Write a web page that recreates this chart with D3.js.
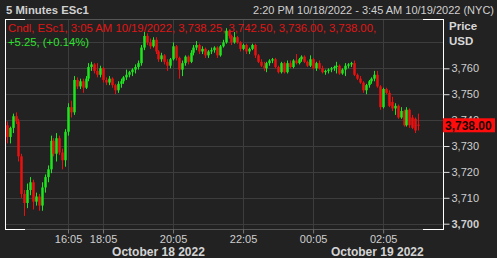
<!DOCTYPE html>
<html>
<head>
<meta charset="utf-8">
<script src="https://cdn.jsdelivr.net/npm/d3@7"></script>
<style>
    html, body { margin: 0; padding: 0; background: #222222; }
    svg { display: block; }
    text { font-family: "Liberation Sans", Arial, sans-serif; }
</style>
</head>
<body>
<div id="chart"></div>
<script>
// ESc1 5 minute candles, 14:20 10/18 -> 03:05 10/19 (NYC), break 17:00-18:00
const opens = [
    3738, 3733.5, 3737, 3741.5, 3739.5, 3726, 3711.5, 3708, 3713, 3716,
    3708.5, 3710.5, 3707, 3714, 3718, 3721, 3732, 3727, 3733, 3727.5,
    3724.5, 3735.5, 3745, 3743, 3755.5, 3753, 3755, 3752.5, 3756, 3760.5,
    3761.5, 3759, 3757.5, 3760, 3755.5, 3754.5, 3756, 3753.5, 3751.5, 3754,
    3755, 3756.5, 3757.5, 3758.5, 3759.5, 3760.5, 3762, 3768, 3772.5, 3770,
    3768.5, 3771, 3766.5, 3763.5, 3765, 3762.5, 3761, 3763.5, 3768.5, 3764,
    3759.5, 3762, 3764.5, 3762.5, 3766, 3768, 3769, 3766.5, 3767.5, 3765,
    3766.5, 3767, 3768, 3765, 3768.5, 3770, 3774.5, 3772.5, 3770, 3772,
    3770, 3767.5, 3769, 3766.5, 3767.5, 3769, 3765, 3762.5, 3761, 3760,
    3762, 3763, 3763.5, 3760.5, 3758.5, 3762, 3758.5, 3762, 3760.5, 3763,
    3762, 3763.5, 3764.5, 3762.5, 3761, 3763.5, 3760, 3762, 3760, 3758.5,
    3759, 3759.5, 3760, 3760.5, 3761, 3758, 3759.5, 3761, 3761.5, 3762,
    3757.5, 3756, 3754.5, 3751.5, 3753.5, 3755, 3756, 3757.5, 3753, 3745,
    3752, 3750.5, 3747, 3744.5, 3745.5, 3741, 3743.5, 3738, 3744, 3741,
    3740.5, 3738.25
];
const highs = [
    3739.5, 3737.5, 3742.5, 3743, 3740.5, 3727, 3713, 3715.5, 3718, 3717,
    3712, 3711.5, 3716, 3719, 3722.5, 3734, 3733, 3735, 3734, 3729,
    3736.5, 3746.5, 3747.5, 3757, 3756.5, 3756, 3756, 3757, 3762, 3762.5,
    3762, 3762, 3761, 3760.5, 3756.5, 3757, 3756.5, 3754, 3755, 3756,
    3757, 3759.5, 3759, 3760, 3761.5, 3763, 3769, 3774, 3773.5, 3771.5,
    3772, 3772, 3767, 3766, 3765.5, 3763.5, 3764, 3770, 3769, 3764.5,
    3763, 3765, 3765, 3767, 3769, 3770.5, 3769.5, 3768.5, 3768, 3767,
    3768, 3768.5, 3768.5, 3769, 3771, 3775.5, 3775, 3773, 3774, 3772.5,
    3770.5, 3769.5, 3769.5, 3768, 3769.5, 3769.5, 3765.5, 3763.5, 3762.5, 3762.5,
    3763.5, 3764, 3764, 3761, 3762.5, 3762.5, 3763, 3763, 3763.5, 3765.5,
    3764, 3765, 3765, 3763, 3765, 3764, 3762.5, 3763, 3761, 3759.5,
    3760, 3760.5, 3761, 3762.5, 3761.5, 3760, 3762, 3762, 3762.5, 3763,
    3758, 3757, 3755, 3754, 3755.5, 3756.5, 3759, 3759, 3753.5, 3752.5,
    3752.5, 3751.5, 3749, 3746.5, 3746, 3745, 3744, 3745, 3744.5, 3742,
    3741, 3742.5
];
const lows = [
    3731, 3731, 3735, 3738.5, 3724, 3710, 3703, 3706, 3711, 3705.5,
    3707, 3705, 3705, 3712, 3716, 3719.5, 3726, 3724, 3726.5, 3721,
    3722, 3734, 3741, 3742, 3752, 3752, 3750.5, 3752, 3755, 3759,
    3758, 3756.5, 3756.5, 3754.5, 3753.5, 3753.5, 3752.5, 3750, 3750.5, 3752.5,
    3754, 3755.5, 3756.5, 3757, 3758, 3759.5, 3761, 3767, 3769, 3767.5,
    3768, 3765.5, 3762.5, 3762.5, 3761.5, 3759, 3760, 3763, 3763, 3756,
    3757, 3761, 3761.5, 3762, 3765, 3767, 3765.5, 3765.5, 3764, 3764,
    3765.5, 3766, 3764, 3764.5, 3768, 3769.5, 3771.5, 3769, 3769.5, 3769.5,
    3766.5, 3767, 3765.5, 3765.5, 3767, 3764, 3762, 3760.5, 3759, 3758.5,
    3761, 3762, 3760, 3758, 3758, 3758, 3758, 3760, 3760, 3761.5,
    3761.5, 3762.5, 3762, 3760.5, 3760.5, 3759.5, 3759, 3759.5, 3758, 3757.5,
    3758, 3758.5, 3759, 3758, 3757.5, 3757.5, 3757, 3760, 3760.5, 3757,
    3755.5, 3754, 3750.5, 3750, 3752.5, 3754, 3755, 3752.5, 3744, 3744.5,
    3750, 3745, 3743.5, 3742, 3740.5, 3740.5, 3737.5, 3737.5, 3737, 3736.5,
    3735, 3736
];
const closes = [
    3733.5, 3737, 3741.5, 3739.5, 3726, 3711.5, 3708, 3713, 3716, 3708.5,
    3710.5, 3707, 3714, 3718, 3721, 3732, 3727, 3733, 3727.5, 3724.5,
    3735.5, 3745, 3743, 3755.5, 3753, 3755, 3752.5, 3756, 3760.5, 3761.5,
    3759, 3757.5, 3760, 3755.5, 3754.5, 3756, 3753.5, 3751.5, 3754, 3755,
    3756.5, 3757.5, 3758.5, 3759.5, 3760.5, 3762, 3768, 3772.5, 3770, 3768.5,
    3771, 3766.5, 3763.5, 3765, 3762.5, 3761, 3763.5, 3768.5, 3764, 3759.5,
    3762, 3764.5, 3762.5, 3766, 3768, 3769, 3766.5, 3767.5, 3765, 3766.5,
    3767, 3768, 3765, 3768.5, 3770, 3774.5, 3772.5, 3770, 3772, 3770,
    3767.5, 3769, 3766.5, 3767.5, 3769, 3765, 3762.5, 3761, 3760, 3762,
    3763, 3763.5, 3760.5, 3758.5, 3762, 3758.5, 3762, 3760.5, 3763, 3762,
    3763.5, 3764.5, 3762.5, 3761, 3763.5, 3760, 3762, 3760, 3758.5, 3759,
    3759.5, 3760, 3760.5, 3761, 3758, 3759.5, 3761, 3761.5, 3762, 3757.5,
    3756, 3754.5, 3751.5, 3753.5, 3755, 3756, 3757.5, 3753, 3745, 3752,
    3750.5, 3745.5, 3744.5, 3745.5, 3741, 3743.5, 3738, 3744, 3738, 3737,
    3736, 3738
];

const priceTicks = [3700, 3710, 3720, 3730, 3740, 3750, 3760];
const priceGrid = [3700, 3710, 3720, 3730, 3740, 3750, 3760, 3770];
const timeTicks = ['16:05', '18:05', '20:05', '22:05', '00:05', '02:05'];
const dateLabels = ['October 18 2022', 'October 19 2022'];
const dateAnchors = ['19:40', '01:55'];
const sessions = [
    ['2022-10-18T14:20', '2022-10-18T17:00'],
    ['2022-10-18T18:00', '2022-10-19T03:50']
];

const title = '5 Minutes ESc1';
const rangeText = '2:20 PM 10/18/2022 - 3:45 AM 10/19/2022 (NYC)';
const lastTime = '3:05 AM 10/19/2022';
const changeText = '+5.25, (+0.14%)';

const W = 497, H = 258;
const pLeft = 5, pRight = 443, pTop = 19, pBottom = 229;
const up = '#1de61d', down = '#ea1010';

// time slots of the axis (the trading break is skipped)
let slots = [];
sessions.forEach(function (s) {
    slots = slots.concat(d3.timeMinute.every(5).range(new Date(s[0]), new Date(s[1])));
});
let hm = d3.timeFormat('%H:%M');
let slotOf = function (label) {
    return slots.find(function (d) { return hm(d) === label; });
};

let x = d3.scalePoint().domain(slots.map(Number)).range([6.75, 441.5]);
let y = d3.scaleLinear().domain([3700, 3770]).range([223.7, 42.4]);

let candles = closes.map(function (c, i) {
    return { t: +slots[i], o: opens[i], h: highs[i], l: lows[i], c: c };
});

let svg = d3.select('#chart').append('svg')
    .attr('width', W)
    .attr('height', H);

svg.append('rect').attr('width', W).attr('height', H).attr('fill', '#222222');

// grid
svg.append('g').selectAll('line')
    .data(priceGrid)
    .enter()
    .append('line')
    .attr('x1', pLeft).attr('x2', pRight)
    .attr('y1', function (d) { return Math.round(y(d)) + 0.5; })
    .attr('y2', function (d) { return Math.round(y(d)) + 0.5; })
    .attr('stroke', '#3d3d3d');

svg.append('g').selectAll('line')
    .data(timeTicks)
    .enter()
    .append('line')
    .attr('x1', function (d) { return Math.round(x(+slotOf(d))) + 0.5; })
    .attr('x2', function (d) { return Math.round(x(+slotOf(d))) + 0.5; })
    .attr('y1', pTop).attr('y2', pBottom)
    .attr('stroke', '#3d3d3d');

// frame
let frame = svg.append('g');
frame.append('line').attr('x1', pLeft).attr('x2', pRight).attr('y1', pTop + 0.5).attr('y2', pTop + 0.5).attr('stroke', '#555');
frame.append('line').attr('x1', pLeft).attr('x2', pRight).attr('y1', pBottom + 0.5).attr('y2', pBottom + 0.5).attr('stroke', '#555');
[[pLeft, pTop, 1], [pRight, pTop, -1], [pLeft, pBottom, 1], [pRight, pBottom, -1]].forEach(function (c) {
    frame.append('line')
        .attr('x1', c[0]).attr('x2', c[0] + c[2] * 20)
        .attr('y1', c[1] + 0.5).attr('y2', c[1] + 0.5)
        .attr('stroke', '#fff');
});
frame.append('line').attr('x1', pLeft + 0.5).attr('x2', pLeft + 0.5).attr('y1', pTop).attr('y2', pBottom + 1).attr('stroke', '#fff');
frame.append('line').attr('x1', pRight + 0.5).attr('x2', pRight + 0.5).attr('y1', pTop).attr('y2', pBottom + 1).attr('stroke', '#fff');

// candles
let g = svg.selectAll('.candle')
    .data(candles)
    .enter()
    .append('g')
    .attr('class', 'candle');

g.append('line')
    .attr('x1', function (d) { return Math.round(x(d.t)) + 0.5; })
    .attr('x2', function (d) { return Math.round(x(d.t)) + 0.5; })
    .attr('y1', function (d) { return y(d.h); })
    .attr('y2', function (d) { return y(d.l); })
    .attr('stroke', function (d) { return d.c < d.o ? down : up; });

g.append('rect')
    .attr('x', function (d) { return Math.round(x(d.t)) - 0.75; })
    .attr('width', 2.5)
    .attr('y', function (d) { return y(Math.max(d.o, d.c)); })
    .attr('height', function (d) { return Math.max(1, Math.abs(y(d.o) - y(d.c))); })
    .attr('fill', function (d) { return d.c < d.o ? down : up; });

// price axis
let yAxis = svg.append('g')
    .attr('transform', 'translate(' + (pRight + 0.5) + ',0)')
    .call(d3.axisRight(y).tickValues(priceTicks).tickFormat(d3.format(',')).tickSize(6).tickPadding(2));
yAxis.select('.domain').remove();
yAxis.selectAll('line').attr('stroke', '#ddd');
yAxis.selectAll('text')
    .attr('fill', '#cfcfcf')
    .style('font-size', '11px')
    .style('font-weight', function (d) { return d === 3700 ? 'bold' : 'normal'; });

// last price box
let last = candles[candles.length - 1];
svg.append('rect')
    .attr('x', pRight)
    .attr('y', y(last.c) - 7)
    .attr('width', 52)
    .attr('height', 14)
    .attr('fill', '#ff0d0d');
svg.append('text')
    .attr('x', pRight + 2)
    .attr('y', y(last.c) + 4.5)
    .attr('fill', '#1c0505')
    .style('font-size', '12px')
    .style('font-weight', 'bold')
    .text(d3.format(',.2f')(last.c));

// time axis
let xAxis = svg.append('g')
    .attr('transform', 'translate(0,' + (pBottom + 0.5) + ')')
    .call(d3.axisBottom(x).tickValues(timeTicks.map(function (d) { return +slotOf(d); }))
        .tickFormat(function (d) { return hm(new Date(d)); }).tickSize(4).tickPadding(2));
xAxis.select('.domain').remove();
xAxis.selectAll('line').attr('stroke', '#777');
xAxis.selectAll('text').attr('fill', '#cfcfcf').style('font-size', '11px');

svg.selectAll('.date')
    .data(dateLabels)
    .enter()
    .append('text')
    .attr('class', 'date')
    .attr('x', function (d, i) { return x(+slotOf(dateAnchors[i])); })
    .attr('y', 256)
    .attr('text-anchor', 'middle')
    .attr('fill', '#d4d4d4')
    .style('font-size', '12px')
    .style('font-weight', 'bold')
    .text(function (d) { return d; });

// headers
svg.append('text').attr('x', 6).attr('y', 14)
    .attr('fill', '#d0d0d0').style('font-size', '11.3px').style('font-weight', 'bold')
    .text(title);
svg.append('text').attr('x', 494).attr('y', 13.5).attr('text-anchor', 'end')
    .attr('fill', '#d0d0d0').style('font-size', '11px')
    .text(rangeText);
svg.append('text').attr('x', 449).attr('y', 29.5)
    .attr('fill', '#d8d8d8').style('font-size', '11.5px').style('font-weight', 'bold')
    .text('Price');
svg.append('text').attr('x', 449).attr('y', 45)
    .attr('fill', '#d8d8d8').style('font-size', '11.5px').style('font-weight', 'bold')
    .text('USD');

let f2 = d3.format(',.2f');
svg.append('text').attr('x', 8).attr('y', 32)
    .attr('fill', '#e01515').style('font-size', '11.3px')
    .text('Cndl, ESc1, ' + lastTime + ', ' + [last.o, last.h, last.l, last.c].map(f2).join(', ') + ',');
svg.append('text').attr('x', 8).attr('y', 46)
    .attr('fill', '#2ee02e').style('font-size', '11.3px')
    .text(changeText);
</script>
</body>
</html>
